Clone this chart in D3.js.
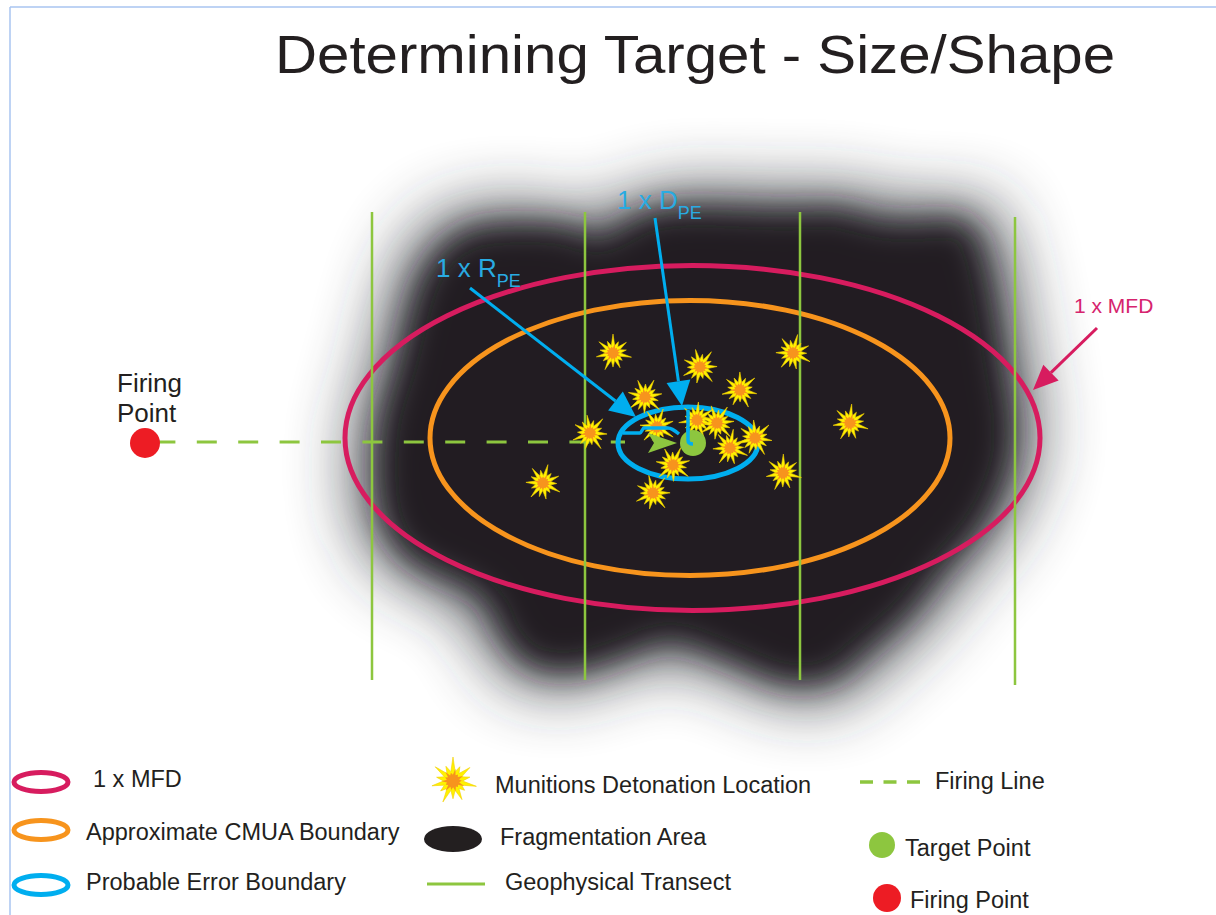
<!DOCTYPE html>
<html>
<head>
<meta charset="utf-8">
<script src="https://cdn.jsdelivr.net/npm/d3@7"></script>
<style>
  html, body { margin: 0; padding: 0; background: #ffffff; }
  svg { display: block; }
  text { font-family: "Liberation Sans", Arial, Helvetica, sans-serif; }
</style>
</head>
<body>
<svg id="chart" width="1216" height="915"></svg>
<script>
// ---------------- DATA (field units, origin = target point, y up) ----------------
const titleText = "Determining Target - Size/Shape";

// geophysical transects: easting, southern end, northern end
const transectX     = [-64.2, -21.6, 21.4, 64.4];
const transectSouth = [-47.4, -47.4, -47.4, -48.4];
const transectNorth = [46.2, 46.2, 46.2, 45.2];

// boundaries (ellipses): centre and semi-axes
const boundaryNames = ["1 x MFD", "Approximate CMUA Boundary", "Probable Error Boundary"];
const boundaryCx = [-0.1, -0.6, -1.0];
const boundaryCy = [1.0, 1.0, 0.0];
const boundaryRx = [69.5, 52.0, 14.0];
const boundaryRy = [34.5, 27.5, 7.2];

// munitions detonation locations
const detonationX = [-16, 1.4, 20, 9.4, -9.6, 31.4, -20.6, -7.2, 0.8, 4.8, 7.4, 12.4, -4, 18, -8, -30];
const detonationY = [18, 15.2, 18, 10.6, 9.2, 4, 2, 3.2, 4.6, 4, -1, 1, -4.4, -6, -10, -8];

// fragmentation area outline
const fragX = [-67, -66, -61, -44.6, -40.6, -35.6, -26, -11.2, -5.6, 9.4, 19.4, 29.4, 37.4, 46.4, 53.4, 62, 68, 66, 62, 59, 45.4, 36.8, 33.4, 19.4, -8.6, -20.6, -26.6, -45.6, -50.6, -57, -63];
const fragY = [1.6, -16.6, -24.4, -33, -41, -47, -48.6, -44, -42, -47, -51, -50.4, -44, -36, -27, -17, -1.4, 18.6, 40, 47, 47, 48, 49.6, 49.6, 49.4, 43.6, 46, 46, 44, 37, 16.6];

// points
const firingPoint = [-109.6, 0];
const targetPoint = [0, 0];
const firingLineEnd = -13.6;

// annotation arrows
const annotNames = ["1 x R", "1 x D", "1 x MFD"];
const annotFrom = [[-44.6, 31], [-7.6, 45], [80.8, 23]];
const annotTo   = [[-11.4, 5.2], [-2.2, 7.4], [68, 10.6]];

// legend
const legendCol1 = ["1 x MFD", "Approximate CMUA Boundary", "Probable Error Boundary"];
const legendCol2 = ["Munitions Detonation Location", "Fragmentation Area", "Geophysical Transect"];
const legendCol3 = ["Firing Line", "Target Point", "Firing Point"];

// ---------------- STYLES ----------------
const C = {
  mfd: "#d71c5f", cmua: "#f7941d", pe: "#00aeef", green: "#8dc63f",
  red: "#ed1c24", dark: "#231f20", yellow: "#fff200", orange: "#f7941d",
  peText: "#29abe2", mfdText: "#d6246e", border: "#a9c4f0"
};
const boundaryColors = [C.mfd, C.cmua, C.pe];

// ---------------- SCALES ----------------
const x = d3.scaleLinear().domain([0, 100]).range([693, 1193]);
const y = d3.scaleLinear().domain([0, 100]).range([443, -57]);
const kx = x(1) - x(0), ky = y(0) - y(1);

const svg = d3.select("#chart");
const defs = svg.append("defs");
function blurFilter(id, sd) {
  defs.append("filter").attr("id", id).attr("filterUnits", "userSpaceOnUse")
    .attr("x", 0).attr("y", 0).attr("width", 1216).attr("height", 915)
    .append("feGaussianBlur").attr("stdDeviation", sd);
}
blurFilter("blurWide", 34);
blurFilter("blurCore", 18);

// page border
svg.append("line").attr("x1", 10).attr("y1", 7).attr("x2", 1216).attr("y2", 7)
  .attr("stroke", C.border).attr("stroke-width", 1.5);
svg.append("line").attr("x1", 10).attr("y1", 7).attr("x2", 10).attr("y2", 915)
  .attr("stroke", C.border).attr("stroke-width", 1.5);

// title
svg.append("text").attr("x", 275).attr("y", 73)
  .attr("font-size", 54).attr("fill", "#231f20")
  .attr("textLength", 840).attr("lengthAdjust", "spacingAndGlyphs")
  .text(titleText);

// fragmentation area: wide soft haze + denser core
const fragPts = fragX.map((v, i) => [x(v), y(fragY[i])]);
const fragD = d3.line().curve(d3.curveCatmullRomClosed.alpha(0.5))(fragPts);
svg.append("path").attr("d", fragD).attr("fill", "#2a2e36").attr("opacity", 0.85)
  .attr("filter", "url(#blurWide)");
svg.append("path").attr("d", fragD).attr("fill", C.dark)
  .attr("transform", "translate(693,443) scale(0.93) translate(-693,-443)")
  .attr("filter", "url(#blurCore)");

// MFD and CMUA boundaries
const bIdx = [0, 1];
svg.selectAll("ellipse.big").data(bIdx).join("ellipse").attr("class", "big")
  .attr("cx", i => x(boundaryCx[i])).attr("cy", i => y(boundaryCy[i]))
  .attr("rx", i => boundaryRx[i] * kx).attr("ry", i => boundaryRy[i] * ky)
  .attr("fill", "none").attr("stroke", i => boundaryColors[i]).attr("stroke-width", 5);

// transects
svg.selectAll("line.transect").data(transectX).join("line").attr("class", "transect")
  .attr("x1", d => x(d)).attr("x2", d => x(d))
  .attr("y1", (d, i) => y(transectNorth[i])).attr("y2", (d, i) => y(transectSouth[i]))
  .attr("stroke", C.green).attr("stroke-width", 2.5);

// firing line
svg.append("line")
  .attr("x1", x(firingPoint[0])).attr("y1", y(firingPoint[1]) - 1)
  .attr("x2", x(firingLineEnd)).attr("y2", y(firingPoint[1]) - 1)
  .attr("stroke", C.green).attr("stroke-width", 3)
  .attr("stroke-dasharray", "20,21.4").attr("stroke-dashoffset", 31);

// probable error boundary
svg.append("ellipse")
  .attr("cx", x(boundaryCx[2])).attr("cy", y(boundaryCy[2]))
  .attr("rx", boundaryRx[2] * kx).attr("ry", boundaryRy[2] * ky)
  .attr("fill", "none").attr("stroke", C.pe).attr("stroke-width", 5);

// starburst shape
const spikes = [1, 0.66, 0.9, 0.72, 1, 0.62, 0.86, 0.74, 0.97, 0.66, 0.9, 0.7, 0.95, 0.68];
function starPath(R, inner, rot) {
  const n = spikes.length, pts = [];
  for (let i = 0; i < n; i++) {
    const a = rot + (i / n) * 2 * Math.PI;
    const a2 = a + Math.PI / n;
    pts.push([Math.cos(a) * R * spikes[i], Math.sin(a) * R * spikes[i]]);
    pts.push([Math.cos(a2) * R * inner, Math.sin(a2) * R * inner]);
  }
  return "M" + pts.map(p => p[0].toFixed(2) + "," + p[1].toFixed(2)).join("L") + "Z";
}
function drawStar(g, R) {
  g.append("path").attr("d", starPath(R, 0.4, -Math.PI / 2))
    .attr("fill", C.yellow).attr("stroke", "#f2cf00").attr("stroke-width", 0.6);
  g.append("path").attr("d", starPath(R * 0.52, 0.5, -Math.PI / 2 + 0.2))
    .attr("fill", C.orange);
}
const det = detonationX.map((v, i) => [v, detonationY[i]]);
svg.selectAll("g.det").data(det).join("g").attr("class", "det")
  .attr("transform", (d, i) => `translate(${x(d[0])},${y(d[1])}) rotate(${(i * 37) % 60})`)
  .each(function () { drawStar(d3.select(this), 19); });

// inner PE measurement marks
const innerPath = [[-14, 2], [-10.6, 2], [-9.8, 3], [-5, 3], [-2.8, 1.8]];
svg.append("path").attr("d", d3.line().curve(d3.curveMonotoneX)(innerPath.map(p => [x(p[0]), y(p[1])])))
  .attr("fill", "none").attr("stroke", C.pe).attr("stroke-width", 3.5);
svg.append("path")
  .attr("d", `M${x(-1)},${y(6.6)} L${x(-1)},${y(0.6)} Q${x(-1)},${y(-0.2)} ${x(0)},${y(-0.2)}`)
  .attr("fill", "none").attr("stroke", C.pe).attr("stroke-width", 3.5);

// target point
svg.append("circle").attr("cx", x(targetPoint[0])).attr("cy", y(targetPoint[1])).attr("r", 13).attr("fill", C.green);
svg.append("path")
  .attr("d", `M${x(-1)},${y(3)} L${x(-1)},${y(0.6)} Q${x(-1)},${y(-0.2)} ${x(0)},${y(-0.2)}`)
  .attr("fill", "none").attr("stroke", C.pe).attr("stroke-width", 3.5);

// green firing direction arrowhead
svg.append("path")
  .attr("d", `M${x(-3.2)},${y(0)} L${x(-9)},${y(2)} L${x(-7.8)},${y(0)} L${x(-9)},${y(-2)} Z`)
  .attr("fill", C.green);

// firing point
svg.append("circle").attr("cx", x(firingPoint[0])).attr("cy", y(firingPoint[1])).attr("r", 15).attr("fill", C.red);

// annotation arrows
function arrow(from, to, color, headLen, headHalf) {
  const x1 = x(from[0]), y1 = y(from[1]), x2 = x(to[0]), y2 = y(to[1]);
  const ang = Math.atan2(y2 - y1, x2 - x1);
  const bx = x2 - Math.cos(ang) * headLen, by = y2 - Math.sin(ang) * headLen;
  svg.append("line").attr("x1", x1).attr("y1", y1).attr("x2", bx).attr("y2", by)
    .attr("stroke", color).attr("stroke-width", 3);
  const px = -Math.sin(ang) * headHalf, py = Math.cos(ang) * headHalf;
  svg.append("path").attr("d", `M${x2},${y2}L${bx + px},${by + py}L${bx - px},${by - py}Z`).attr("fill", color);
}
arrow(annotFrom[0], annotTo[0], C.pe, 26, 12);
arrow(annotFrom[1], annotTo[1], C.pe, 25, 12);
arrow(annotFrom[2], annotTo[2], C.mfd, 25, 11);

// annotation labels
function peLabel(px, py, main) {
  const t = svg.append("text").attr("x", px).attr("y", py).attr("fill", C.peText).attr("font-size", 26);
  t.append("tspan").text(main);
  t.append("tspan").attr("dy", 10).attr("font-size", 18).text("PE");
}
peLabel(436, 277, annotNames[0]);
peLabel(617, 209, annotNames[1]);
svg.append("text").attr("x", 1074).attr("y", 313).attr("fill", C.mfdText).attr("font-size", 21).text(annotNames[2]);

svg.append("text").attr("x", 117).attr("y", 392).attr("font-size", 26).attr("fill", C.dark).text("Firing");
svg.append("text").attr("x", 117).attr("y", 422).attr("font-size", 26).attr("fill", C.dark).text("Point");

// ---------------- LEGEND ----------------
const lg = svg.append("g").attr("font-size", 23.5).attr("fill", C.dark);
const col1Y = [782, 830, 885], col1Text = [787, 840, 890];
legendCol1.forEach((t, i) => {
  lg.append("ellipse").attr("cx", 41).attr("cy", col1Y[i]).attr("rx", 27).attr("ry", 9.5)
    .attr("fill", "none").attr("stroke", boundaryColors[i]).attr("stroke-width", 5);
  lg.append("text").attr("x", i === 0 ? 93 : 86).attr("y", col1Text[i]).text(t);
});
const s = lg.append("g").attr("transform", "translate(453,781)");
drawStar(s, 24);
lg.append("ellipse").attr("cx", 453).attr("cy", 839).attr("rx", 29).attr("ry", 13).attr("fill", C.dark);
lg.append("line").attr("x1", 427).attr("x2", 485).attr("y1", 884).attr("y2", 884)
  .attr("stroke", C.green).attr("stroke-width", 3);
const col2X = [495, 500, 505], col2Yt = [793, 845, 890];
legendCol2.forEach((t, i) => lg.append("text").attr("x", col2X[i]).attr("y", col2Yt[i]).text(t));
lg.append("line").attr("x1", 860).attr("x2", 920).attr("y1", 782).attr("y2", 782)
  .attr("stroke", C.green).attr("stroke-width", 3.5).attr("stroke-dasharray", "13,10.5");
lg.append("circle").attr("cx", 882).attr("cy", 845).attr("r", 13).attr("fill", C.green);
lg.append("circle").attr("cx", 887).attr("cy", 898).attr("r", 14).attr("fill", C.red);
const col3X = [935, 905, 910], col3Yt = [789, 856, 908];
legendCol3.forEach((t, i) => lg.append("text").attr("x", col3X[i]).attr("y", col3Yt[i]).text(t));
</script>
</body>
</html>
